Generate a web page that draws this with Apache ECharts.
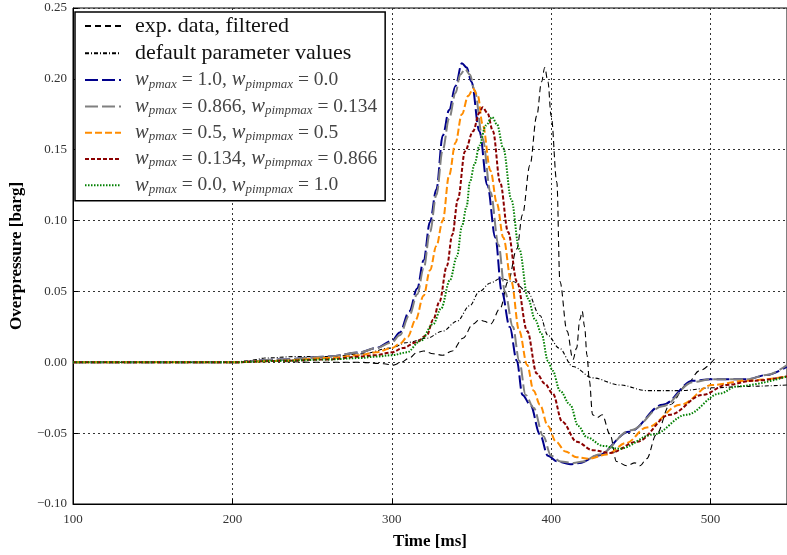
<!DOCTYPE html>
<html>
<head>
<meta charset="utf-8">
<script src="https://cdn.jsdelivr.net/npm/echarts@6/dist/echarts.min.js"></script>
<style>html,body{margin:0;padding:0;background:#fff}#c{width:787px;height:555px}</style>
</head>
<body>
<div id="c"></div>
<script>
// ---- data (time [ms], overpressure [barg]) ----
var xTicks = [100, 200, 300, 400, 500];
var yTicks = [-0.10, -0.05, 0.00, 0.05, 0.10, 0.15, 0.20, 0.25];

var expData = [[100,0],[200,0],[220,0.001],[250,0.0],[280,0.0],[295,-0.001],[301,-0.002],[306,0.0],[311,0.003],[316,0.007],[320,0.008],[326,0.006],[332,0.005],[338,0.008],[344.7,0.017],[351,0.027],[355,0.030],[358,0.029],[362,0.027],[368,0.038],[373,0.057],[378.5,0.080],[382,0.104],[386.7,0.139],[391,0.174],[394,0.198],[396,0.208],[398,0.198],[400,0.174],[403.6,0.127],[405.5,0.057],[410,0.022],[413.7,0.002],[416,0.010],[418,0.030],[419.5,0.036],[421,0.025],[422.5,0.005],[424,-0.013],[426,-0.037],[429,-0.039],[432,-0.037],[437,-0.051],[441,-0.070],[447.5,-0.073],[452.6,-0.071],[455.7,-0.073],[460,-0.068],[466,-0.051],[474.5,-0.030],[485,-0.016],[493,-0.006],[503,0.003]];

var defaultParams = [[100,0],[200,0],[210,0.001],[215,0.002],[220,0.003],[240,0.004],[261,0.004],[282,0.006],[299,0.010],[310,0.014],[322,0.017],[332,0.022],[341,0.029],[349,0.040],[355,0.050],[362,0.056],[368,0.059],[376,0.057],[385,0.050],[393,0.033],[398,0.019],[405,0.010],[413.7,-0.003],[426,-0.011],[443,-0.016],[460,-0.020],[481,-0.020],[501.5,-0.018],[523,-0.017],[548,-0.016]];

var w10 = [[100,0],[200,0],[230,0.002],[260,0.004],[280,0.007],[290,0.010],[300,0.015],[305,0.021],[311,0.036],[316,0.052],[320,0.072],[324,0.099],[328,0.122],[332,0.160],[336,0.178],[340,0.195],[344,0.211],[347,0.208],[350,0.198],[355,0.163],[360,0.125],[365,0.088],[369,0.050],[374,0.025],[378.5,0.001],[382,-0.023],[387,-0.030],[393,-0.051],[398,-0.066],[404,-0.070],[412,-0.072],[418,-0.071],[429,-0.066],[449,-0.049],[470,-0.030],[489,-0.013],[500,-0.012],[523,-0.012],[535,-0.009],[548,-0.003]];

var w0866 = [[100,0],[200,0],[230,0.002],[260,0.004],[280,0.007],[290,0.010],[300,0.014],[305,0.019],[311,0.033],[316,0.048],[320,0.066],[324,0.092],[328,0.118],[332,0.150],[336,0.172],[340,0.190],[343,0.203],[346,0.207],[349,0.203],[352,0.192],[357,0.158],[362,0.120],[367,0.083],[371,0.050],[376,0.025],[380,0.001],[384,-0.023],[389,-0.032],[395,-0.052],[400,-0.066],[406,-0.070],[414,-0.071],[420,-0.070],[430,-0.065],[450,-0.048],[470,-0.031],[489,-0.014],[500,-0.012],[523,-0.012],[535,-0.009],[548,-0.002]];

var w05 = [[100,0],[200,0],[230,0.001],[260,0.003],[280,0.005],[290,0.007],[300,0.010],[305,0.013],[310,0.018],[315,0.030],[320,0.047],[324,0.065],[328,0.082],[332,0.100],[336,0.132],[340,0.155],[344,0.175],[348,0.188],[351,0.193],[354,0.188],[357,0.168],[362,0.135],[366,0.112],[370,0.088],[375,0.057],[380,0.022],[385,-0.002],[389,-0.020],[393,-0.030],[398,-0.045],[403,-0.056],[409,-0.063],[416,-0.067],[424,-0.068],[435,-0.065],[447,-0.057],[460,-0.046],[481,-0.030],[501,-0.016],[523,-0.013],[548,-0.010]];

var w0134 = [[100,0],[200,0],[230,0.001],[260,0.002],[280,0.004],[290,0.005],[300,0.007],[307,0.010],[315,0.014],[322,0.019],[326,0.030],[330,0.043],[334.6,0.068],[338,0.090],[341.5,0.115],[346,0.149],[351,0.163],[355,0.176],[357,0.180],[360,0.176],[363.5,0.163],[368,0.127],[373,0.092],[378.5,0.057],[385,0.022],[391,-0.008],[396,-0.015],[401,-0.022],[407,-0.042],[416,-0.056],[426,-0.062],[437,-0.064],[454,-0.056],[474.5,-0.037],[495,-0.023],[510,-0.016],[527,-0.013],[548,-0.010]];

var w00 = [[100,0],[200,0],[230,0.001],[260,0.002],[280,0.003],[290,0.004],[300,0.005],[309.5,0.007],[318,0.015],[326,0.027],[331,0.038],[336.5,0.058],[341,0.075],[344,0.096],[347,0.110],[349,0.127],[352,0.140],[355,0.153],[359,0.167],[363,0.173],[366,0.168],[370,0.151],[375,0.115],[380,0.080],[385.5,0.045],[390,0.030],[394,0.020],[398,0.001],[401,-0.006],[405.5,-0.020],[412,-0.030],[417,-0.045],[422.5,-0.053],[432.5,-0.059],[443,-0.061],[464,-0.051],[485,-0.037],[506,-0.022],[516.5,-0.017],[548,-0.010]];

var names = ['exp', 'def', 'a', 'b', 'c', 'd', 'e'];
var labels = {
  exp: '{g|}{p|exp. data, filtered}',
  def: '{g|}{p|default parameter values}',
  a: '{g|}{i|w}{s|pmax}{m| = 1.0, }{i|w}{s|pimpmax}{m| = 0.0}',
  b: '{g|}{i|w}{s|pmax}{m| = 0.866, }{i|w}{s|pimpmax}{m| = 0.134}',
  c: '{g|}{i|w}{s|pmax}{m| = 0.5, }{i|w}{s|pimpmax}{m| = 0.5}',
  d: '{g|}{i|w}{s|pmax}{m| = 0.134, }{i|w}{s|pimpmax}{m| = 0.866}',
  e: '{g|}{i|w}{s|pmax}{m| = 0.0, }{i|w}{s|pimpmax}{m| = 1.0}'
};

var serif = '"Liberation Serif", "DejaVu Serif", serif';
function mk(name, data, color, width, type) {
  return {
    name: name, type: 'line', data: data, showSymbol: false, symbol: 'none',
    smooth: 0.35, smoothMonotone: 'x', animation: false,
    lineStyle: { color: color, width: width, type: type },
    itemStyle: { color: color }
  };
}

var chart = echarts.init(document.getElementById('c'), null, { renderer: 'canvas' });
chart.setOption({
  animation: false,
  backgroundColor: '#fff',
  grid: { left: 73, right: 0, top: 8, bottom: 49, show: true, borderColor: '#000', borderWidth: 1 },
  legend: {
    data: names, orient: 'vertical', left: 75, top: 12,
    backgroundColor: '#fff', borderColor: '#000', borderWidth: 1.5,
    padding: [3, 8, 5, 9], itemGap: 5.3, itemWidth: 36, itemHeight: 2,
    itemStyle: { opacity: 0 },
    formatter: function (n) { return labels[n]; },
    textStyle: {
      fontFamily: serif, fontSize: 21, color: '#000', lineHeight: 21,
      rich: {
        g: { width: 9, lineHeight: 21 },
        p: { fontFamily: serif, fontSize: 22, color: '#111', lineHeight: 21 },
        i: { fontFamily: serif, fontStyle: 'italic', fontSize: 20.5, color: '#444', lineHeight: 21 },
        s: { fontFamily: serif, fontStyle: 'italic', fontSize: 13, color: '#444', lineHeight: 12, verticalAlign: 'bottom' },
        m: { fontFamily: serif, fontSize: 19.5, color: '#444', lineHeight: 21 }
      }
    }
  },
  xAxis: {
    type: 'value', min: 100, max: 548, interval: 100,
    name: 'Time [ms]', nameLocation: 'middle', nameGap: 29,
    nameTextStyle: { fontFamily: serif, fontWeight: 'bold', fontSize: 17, color: '#000' },
    axisLine: { show: true, onZero: false, lineStyle: { color: '#000', width: 1 } },
    axisTick: { show: true, inside: true, length: 5, lineStyle: { color: '#000' } },
    axisLabel: { fontFamily: serif, fontSize: 13, color: '#333', margin: 9, showMaxLabel: false,
      formatter: function (v) { return xTicks.indexOf(v) >= 0 ? String(v) : ''; } },
    splitLine: { show: true, lineStyle: { color: '#333', type: [2, 3], width: 1 } }
  },
  yAxis: {
    type: 'value', min: -0.10, max: 0.25, interval: 0.05,
    name: 'Overpressure [barg]', nameLocation: 'middle', nameGap: 48, nameRotate: 90,
    nameTextStyle: { fontFamily: serif, fontWeight: 'bold', fontSize: 17, color: '#000' },
    axisLine: { show: true, onZero: false, lineStyle: { color: '#000', width: 1 } },
    axisTick: { show: true, inside: true, length: 5, lineStyle: { color: '#000' } },
    axisLabel: { fontFamily: serif, fontSize: 13, color: '#333', margin: 6,
      formatter: function (v) { var s = (Math.round(v * 100) / 100).toFixed(2); return s.replace('-', '\u2212'); } },
    splitLine: { show: true, lineStyle: { color: '#333', type: [2, 3], width: 1 } }
  },
  series: [
    mk('exp', expData, '#000', 1.1, [6, 4]),
    mk('def', defaultParams, '#000', 1.1, [4, 2, 1, 2]),
    mk('a', w10, '#00008b', 2, [13, 4]),
    mk('b', w0866, '#808080', 2, [13, 4]),
    mk('c', w05, '#ff8c00', 2, [7, 3]),
    mk('d', w0134, '#8b0000', 2, [4, 2]),
    mk('e', w00, '#008000', 2, [1.5, 1.5])
  ]
});
</script>
</body>
</html>
